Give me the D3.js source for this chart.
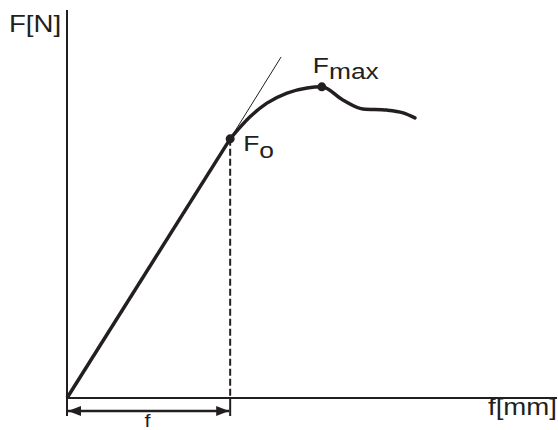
<!DOCTYPE html>
<html>
<head>
<meta charset="utf-8">
<script src="https://cdn.jsdelivr.net/npm/d3@7"></script>
<style>
  body { margin: 0; background: #fff; }
  text { font-family: Arial, "Liberation Sans", sans-serif; fill: #231f20; }
</style>
</head>
<body>
<svg id="chart" width="558" height="430"></svg>
<script>
// force-deflection curve, units (0..100 on both axes)
const linearPart = [[0, 0], [33.3, 66.8]]
const tangentPart = [[33.3, 66.8], [43.7, 87.9]]
const curveX = [33.3, 37.3, 40.8, 44.9, 49.0, 52.0, 56.3, 60.4, 65.3, 68.6, 71.0]
const curveY = [66.8, 72.4, 76.0, 78.6, 79.9, 80.2, 76.8, 74.5, 74.2, 73.5, 72.2]
const pointNames = ["F", "F"]
const pointSubs = ["o", "max"]
const pointX = [33.3, 52.0]
const pointY = [66.8, 80.2]
const axisLabels = ["F[N]", "f[mm]"]
const spanLabel = "f"

const svg = d3.select("#chart")
const ink = "#231f20"
const stretch = 1.2  // the original lettering is wider than Arial

const x = d3.scaleLinear().domain([0, 100]).range([67, 557])
const y = d3.scaleLinear().domain([0, 100]).range([398, 10])

const defs = svg.append("defs")
defs.append("marker")
  .attr("id", "arrow")
  .attr("viewBox", "0 0 13 10")
  .attr("refX", 13).attr("refY", 5)
  .attr("markerWidth", 13).attr("markerHeight", 10)
  .attr("markerUnits", "userSpaceOnUse")
  .attr("orient", "auto-start-reverse")
  .append("path")
  .attr("d", "M0,0 L13,5 L0,10 Z")
  .attr("fill", ink)

// axes
svg.append("line")
  .attr("x1", x(0)).attr("x2", x(0))
  .attr("y1", y(100)).attr("y2", y(0) + 18)
  .attr("stroke", ink).attr("stroke-width", 2)
svg.append("line")
  .attr("x1", x(0)).attr("x2", x(100))
  .attr("y1", y(0)).attr("y2", y(0))
  .attr("stroke", ink).attr("stroke-width", 2)

// dashed drop line from F0
svg.append("line")
  .attr("x1", x(pointX[0])).attr("x2", x(pointX[0]))
  .attr("y1", y(pointY[0])).attr("y2", y(0))
  .attr("stroke", ink).attr("stroke-width", 2)
  .attr("stroke-dasharray", "7,3")
svg.append("line")
  .attr("x1", x(pointX[0])).attr("x2", x(pointX[0]))
  .attr("y1", y(0)).attr("y2", y(0) + 18)
  .attr("stroke", ink).attr("stroke-width", 2)

// dimension arrow
svg.append("line")
  .attr("x1", x(0) + 1).attr("x2", x(pointX[0]) - 1)
  .attr("y1", y(0) + 13).attr("y2", y(0) + 13)
  .attr("stroke", ink).attr("stroke-width", 2.5)
  .attr("marker-start", "url(#arrow)")
  .attr("marker-end", "url(#arrow)")

const line = d3.line().x(d => x(d[0])).y(d => y(d[1]))

// tangent
svg.append("path")
  .attr("d", line(tangentPart))
  .attr("fill", "none").attr("stroke", ink).attr("stroke-width", 1)

// linear part
svg.append("path")
  .attr("d", line(linearPart))
  .attr("fill", "none").attr("stroke", ink).attr("stroke-width", 3.5)

// nonlinear part
const curvePts = curveX.map((v, i) => [v, curveY[i]])
svg.append("path")
  .attr("d", line.curve(d3.curveMonotoneX)(curvePts))
  .attr("fill", "none").attr("stroke", ink).attr("stroke-width", 3.5)
  .attr("stroke-linecap", "round")

// points
svg.selectAll(".pt")
  .data(pointX)
  .enter().append("circle")
  .attr("cx", d => x(d))
  .attr("cy", (d, i) => y(pointY[i]))
  .attr("r", 4.5)
  .attr("fill", ink)

function label(px, py, size, anchor) {
  return svg.append("text")
    .attr("transform", `translate(${px},${py}) scale(${stretch},1)`)
    .attr("text-anchor", anchor || "start")
    .style("font-size", size + "px")
}

// point labels
const lab = [[13, 12, 7], [-9, -14, 6]]
pointX.forEach((v, i) => {
  const t = label(x(v) + lab[i][0], y(pointY[i]) + lab[i][1], 22)
  t.append("tspan").text(pointNames[i])
  t.append("tspan").attr("dy", lab[i][2]).text(pointSubs[i])
})

// axis labels
label(9, 32, 23).text(axisLabels[0])
label(557, 415, 23, "end").text(axisLabels[1])
label((x(0) + x(pointX[0])) / 2 - 1, 427, 18, "middle").text(spanLabel)
</script>
</body>
</html>
